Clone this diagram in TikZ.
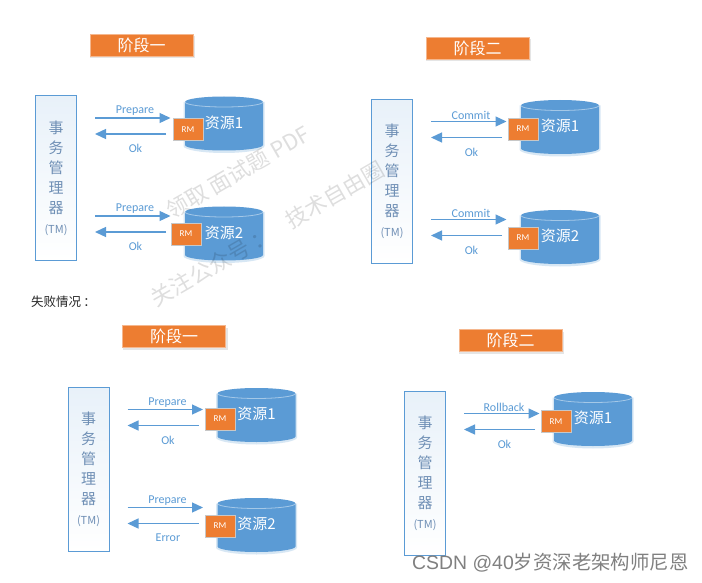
\documentclass[tikz,border=0pt]{standalone}
\usepackage{fontspec}
\setmainfont{Carlito}
\newfontfamily\cjk{Noto Sans CJK SC}
\newfontfamily\wm{Liberation Sans}
\usetikzlibrary{arrows.meta}
\definecolor{msblue}{HTML}{5B9BD5}
\definecolor{msorange}{HTML}{ED7D31}
\definecolor{tmtext}{HTML}{6F8FB5}
\definecolor{glow}{HTML}{BDD7EE}
\tikzset{
  titlebox/.style={draw=msorange!55!white,line width=.7pt,fill=msorange,text=white,minimum width=103pt,minimum height=22pt,inner sep=0pt,font=\cjk\fontsize{16}{16}\selectfont},
  tmbox/.style={draw=msblue,line width=1pt,top color=msblue!14!white,bottom color=white,minimum width=41pt,minimum height=164pt,inner sep=0pt,align=center,text=tmtext,font=\cjk\fontsize{15}{20}\selectfont},
  rmbox/.style={draw=black!22,line width=.7pt,fill=msorange,text=white,minimum width=30pt,minimum height=22pt,inner sep=0pt,font=\fontsize{9}{9}\selectfont},
  restext/.style={text=white,inner sep=0pt,font=\cjk\fontsize{15}{15}\selectfont},
  msg/.style={draw=msblue,line width=1.3pt,-{Triangle[length=11pt,width=10pt]}},
  msglabel/.style={text=msblue,inner sep=0pt,font=\fontsize{12}{12}\selectfont},
  mark text/.style={text=black,opacity=.13,rotate=30,inner sep=0pt,font=\cjk\fontsize{22}{22}\selectfont},
}
% id, dx, dy, title
\newcommand\tmpanel[4]{%
  \begin{scope}[shift={(#2,#3)}]
    \fill[black,opacity=.10] (90,36) rectangle (195,58);
    \node[titlebox] (#1title) at (141.5,45) {#4};
    \node[tmbox] (#1tm) at (56,178) {事\\务\\管\\理\\器\\{\fontsize{11}{11}\selectfont (TM)}};
  \end{scope}}
% id, dx, dy, cylinder y offset, rm x, rm y, digit
\newcommand\resrow[7]{%
  \begin{scope}[shift={(#2,#3)}]
    \begin{scope}[shift={(0,#4)}]
      \fill[glow,opacity=.6] (183.5,102) -- (183.5,146) arc[x radius=40.5,y radius=7,start angle=180,end angle=0] -- (264.5,102) -- cycle;
      \fill[msblue] (185,102) arc[x radius=39,y radius=5.5,start angle=180,end angle=360] -- (263,145) arc[x radius=39,y radius=5.5,start angle=0,end angle=180] -- cycle;
      \draw[white,opacity=.45,line width=.8pt] (185,102) arc[x radius=39,y radius=5,start angle=180,end angle=0];
      \node[restext] (#1res) at (224,122.5) {资源#7};
      \node[rmbox] (#1rm) at (#5,#6) {RM};
    \end{scope}
  \end{scope}}
% id, dx, dy, arrow y offset, top label, bottom label
\newcommand\msgrow[6]{%
  \begin{scope}[shift={(#2,#3)}]
    \begin{scope}[shift={(0,#4)}]
      \coordinate (#1a) at (95,118);
      \coordinate (#1b) at (170.5,118);
      \coordinate (#1c) at (166,134);
      \coordinate (#1d) at (95,134);
      \draw[msg] (#1a) -- (#1b) node[msglabel,pos=.53,above=1.5pt] {#5};
      \draw[msg] (#1c) -- (#1d) node[msglabel,pos=.43,below=10pt] {#6};
    \end{scope}
  \end{scope}}
\begin{document}
\begin{tikzpicture}[x=1pt,y=-1pt]
\useasboundingbox (0,0) rectangle (702,583);
\fill[white] (0,0) rectangle (702,583);

% stage one
\tmpanel{a}{0}{0}{阶段一}
\resrow{a1}{0}{0}{0}{188}{129.5}{1}
\msgrow{a1}{0}{0}{0}{Prepare}{Ok}
\resrow{a2}{0}{0}{110}{186}{124}{2}
\msgrow{a2}{0}{0}{98}{Prepare}{Ok}
% stage two
\tmpanel{b}{336}{3.5}{阶段二}
\resrow{b1}{336}{3.5}{0}{187}{125.5}{1}
\msgrow{b1}{336}{3.5}{0}{Commit}{Ok}
\resrow{b2}{336}{3.5}{110}{187}{124.5}{2}
\msgrow{b2}{336}{3.5}{98}{Commit}{Ok}
% failure label
\node[inner sep=0pt,anchor=west,font=\cjk\fontsize{12.5}{13}\selectfont,text=black!85] (fail) at (31,302) {失败情况{\,}：};
% stage one failure
\tmpanel{c}{32.5}{291.5}{阶段一}
\resrow{c1}{32.5}{291.5}{0}{187.5}{127.5}{1}
\msgrow{c1}{32.5}{291.5}{0}{Prepare}{Ok}
\resrow{c2}{32.5}{291.5}{110}{187.5}{124.5}{2}
\msgrow{c2}{32.5}{291.5}{98}{Prepare}{Error}
% stage two failure
\tmpanel{d}{369}{295.5}{阶段二}
\resrow{d1}{369}{295.5}{0}{187}{126}{1}
\msgrow{d1}{369}{295.5}{0}{Rollback}{Ok}

% watermark
\node[mark text] (m1) at (238,172) {领取 面试题 PDF};
\node[mark text] (m2) at (335,195) {技术自由圈};
\node[mark text] (m3) at (212,266) {关注公众号 ：};
% credit
\node[inner sep=0pt,anchor=west,text=black!50,font=\wm\fontsize{19.4}{19}\selectfont] (csdn) at (412,563) {CSDN @40{\cjk 岁资深老架构师尼恩}};
\end{tikzpicture}
\end{document}
